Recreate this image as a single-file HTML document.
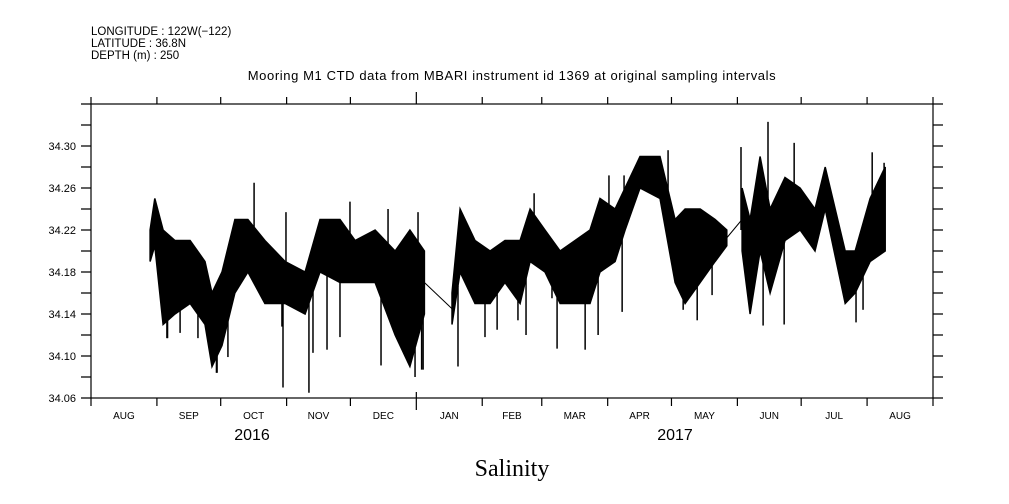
<!DOCTYPE html>
<html><head><meta charset="utf-8"><style>
html,body{margin:0;padding:0;background:#fff;}
svg{display:block;font-family:"Liberation Sans",sans-serif;}
</style></head><body>
<svg id="chart" width="1009" height="504" viewBox="0 0 1009 504">
<g font-size="11.5" fill="#000">
<text x="91" y="35">LONGITUDE : 122W(−122)</text>
<text x="91" y="47">LATITUDE : 36.8N</text>
<text x="91" y="59">DEPTH (m) : 250</text>
</g>
<text x="512" y="80" font-size="13" letter-spacing="0.6" text-anchor="middle">Mooring M1 CTD data from MBARI instrument id 1369 at original sampling intervals</text>
<text x="512" y="476" font-size="24" font-family="'Liberation Serif',serif" text-anchor="middle">Salinity</text>
<g id="axes"></g>
<g id="marks"></g>
</svg>
<script>
// days since 2016-08-01
const binDays = [27.8,30,33.9,39.5,46.6,53.6,56.9,61.6,67.7,73.8,81.8,91.3,100.7,107.7,117.1,124.2,133.6,143.0,150.0,156.8,
 169.8,173.6,180.6,187.7,194.7,201.8,206.5,213.5,220.6,227.7,234.7,239.4,246.5,251.2,258.2,267.6,274.7,279.4,286.5,293.5,299.0,
 306.2,310.0,314.7,319.4,326.4,333.5,340.5,345.3,354.7,359.4,366.4,373.5];
const binHi = [34.22,34.25,34.22,34.21,34.21,34.19,34.16,34.18,34.23,34.23,34.21,34.19,34.18,34.23,34.23,34.21,34.22,34.20,34.22,34.20,
 34.16,34.24,34.21,34.20,34.21,34.21,34.24,34.22,34.20,34.21,34.22,34.25,34.24,34.26,34.29,34.29,34.23,34.24,34.24,34.23,34.22,
 34.26,34.23,34.29,34.24,34.27,34.26,34.24,34.28,34.20,34.20,34.25,34.28];
const binLo = [34.19,34.205,34.13,34.14,34.15,34.13,34.09,34.11,34.16,34.18,34.15,34.15,34.14,34.18,34.17,34.17,34.17,34.12,34.09,34.14,
 34.13,34.18,34.15,34.15,34.17,34.15,34.19,34.18,34.15,34.15,34.15,34.18,34.19,34.22,34.26,34.25,34.17,34.15,34.17,34.19,34.205,
 34.20,34.14,34.20,34.16,34.21,34.22,34.20,34.24,34.15,34.16,34.19,34.20];
const segStarts = [0,20,41]; // indices where a new continuous record begins
const spikeDays = [90.3,102.5,76.7,172.6,232.4,318.4,305.7,219.2,152.4,155.5,36,59,
 91.7,109.1,121.8,139.7,153.8,35.7,41.9,50.3,59.3,64.4,89.8,104.4,111.0,117.1,136.4,149.1,156.2,
 185.3,191.0,200.8,204.6,216.8,238.5,249.8,278.5,285.1,243.6,250.7,208.4,271.4,
 330.7,367.4,373.0,292.1,316.1,326.0,359.8,363.1];
const spikeVals = [34.07,34.065,34.265,34.09,34.106,34.323,34.299,34.107,34.08,34.087,34.117,34.084,
 34.237,34.215,34.247,34.240,34.237,34.117,34.122,34.117,34.084,34.099,34.128,34.103,34.106,34.118,34.091,34.110,34.087,
 34.118,34.125,34.134,34.120,34.155,34.120,34.142,34.144,34.134,34.272,34.272,34.255,34.296,
 34.303,34.294,34.284,34.158,34.129,34.130,34.132,34.144];
const yTicks = [34.06,34.08,34.10,34.12,34.14,34.16,34.18,34.20,34.22,34.24,34.26,34.28,34.30,34.32,34.34];
const yLabels = ["34.06","34.10","34.14","34.18","34.22","34.26","34.30"];
const monthTicks = [0,31,61,92,122,153,184,212,243,273,304,334,365,396];
const monthNames = ["AUG","SEP","OCT","NOV","DEC","JAN","FEB","MAR","APR","MAY","JUN","JUL","AUG"];

const X0=91,X1=933,Y0=398,Y1=104;
const x=d=>X0+d*(X1-X0)/396;
const y=v=>Y0-(v-34.06)*(Y0-Y1)/0.28;
const NS="http://www.w3.org/2000/svg";
const axes=document.getElementById('axes'),marks=document.getElementById('marks');
function mk(tag,attrs,parent){const e=document.createElementNS(NS,tag);for(const k in attrs)e.setAttribute(k,attrs[k]);parent.appendChild(e);return e;}

const frame=mk('rect',{x:X0,y:Y1,width:X1-X0,height:Y0-Y1,fill:'none',stroke:'#000','stroke-width':1.2},axes);


yTicks.forEach(v=>{
  const t=mk('path',{d:`M${X0-10} ${y(v)}H${X0}M${X1} ${y(v)}H${X1+10}`,stroke:'#000','stroke-width':1.2},axes);
  
  
});
yLabels.forEach(s=>{
  const t=mk('text',{x:X0-15,y:y(+s)+4,'font-size':11,'text-anchor':'end'},axes);t.textContent=s;
  
  
});
monthTicks.forEach(d=>{
  const big=d===153;
  const t=mk('path',{d:`M${x(d)} ${Y0-(big?6:0)}V${Y0+(big?12:8)}M${x(d)} ${Y1}V${Y1-(big?12:7)}`,stroke:'#000','stroke-width':1.2},axes);
  
  
});
monthNames.forEach((m,i)=>{
  const t=mk('text',{x:(x(monthTicks[i])+x(monthTicks[i+1]))/2,y:419,'font-size':10,'text-anchor':'middle'},axes);t.textContent=m;
  
  
});
[["2016",252],["2017",675]].forEach(([s,px])=>{
  const t=mk('text',{x:px,y:440,'font-size':16,'text-anchor':'middle'},axes);t.textContent=s;
  
  
});

const ends=segStarts.slice(1).concat([binDays.length]);
segStarts.forEach((s,k)=>{
  const e=ends[k];let up='',dn='';
  for(let i=s;i<e;i++)up+=(i===s?'M':'L')+x(binDays[i]).toFixed(1)+' '+y(binHi[i]).toFixed(1);
  for(let i=e-1;i>=s;i--)dn+='L'+x(binDays[i]).toFixed(1)+' '+y(binLo[i]).toFixed(1);
  const p=mk('path',{d:up+dn+'Z',fill:'#000',stroke:'#000','stroke-width':1.5},marks);
  
  
  if(k>0){
    const pi=s-1;
    const mid=i=>(binHi[i]+binLo[i])/2;
    const g=mk('line',{x1:x(binDays[pi]),y1:y(mid(pi)),x2:x(binDays[s]),y2:y(mid(s)),stroke:'#000','stroke-width':1},marks);
    
    
  }
});
function edgeAt(arr,d){
  let k=0;
  for(let i=0;i<segStarts.length;i++)if(binDays[segStarts[i]]<=d)k=i;
  const s=segStarts[k],e=ends[k]-1;
  if(d<=binDays[s])return arr[s];
  if(d>=binDays[e])return arr[e];
  let j=s;while(binDays[j+1]<d)j++;
  const t=(d-binDays[j])/(binDays[j+1]-binDays[j]);
  return arr[j]+(arr[j+1]-arr[j])*t;
}
spikeDays.forEach((d,i)=>{
  const hi=edgeAt(binHi,d),lo=edgeAt(binLo,d);
  const base=spikeVals[i]>(hi+lo)/2?hi:lo;
  const l=mk('line',{x1:x(d),x2:x(d),y1:y(base),y2:y(spikeVals[i]),stroke:'#000','stroke-width':1.5},marks);
  
  
});
</script>
</body></html>
